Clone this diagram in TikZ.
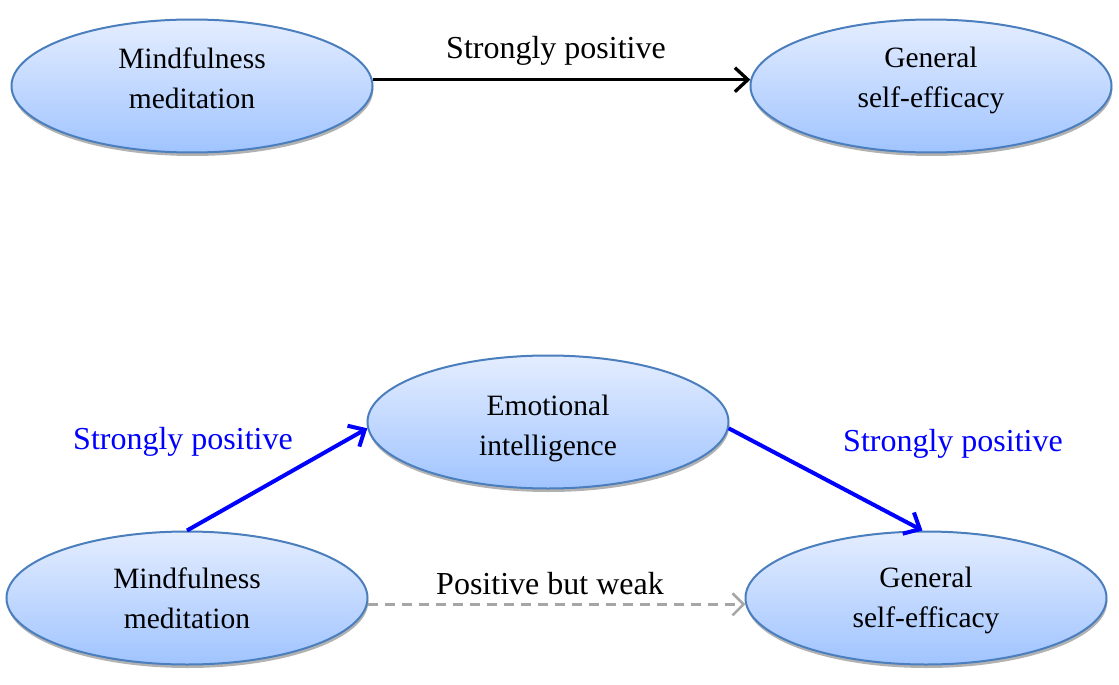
\documentclass[tikz,border=0pt]{standalone}
\usepackage{fontspec}
\setmainfont{Liberation Serif}
\usetikzlibrary{shapes.geometric,arrows.meta,shadows}
\definecolor{rim}{RGB}{74,126,188}
\definecolor{fillTop}{RGB}{228,237,255}
\definecolor{fillBot}{RGB}{160,196,255}
\definecolor{weakgray}{RGB}{166,166,166}
\tikzset{
  bubble/.style={ellipse, draw=rim, line width=2pt,
    top color=fillTop, bottom color=fillBot,
    minimum width=361pt, minimum height=133pt, inner sep=0pt,
    drop shadow={shadow xshift=0.8pt, shadow yshift=-3.5pt, fill=black!55, opacity=0.55}},
  caption/.style={align=center, font=\fontsize{29.5}{40}\selectfont, inner sep=0pt},
  edgelabel/.style={font=\fontsize{32}{38}\selectfont, inner sep=0pt},
  strong/.style={draw=black, line width=3.3pt, -{Straight Barb[length=13pt, width=24pt, line width=3.3pt]}},
  bluelink/.style={draw=blue, line width=4pt, -{Straight Barb[length=13pt, width=24pt, line width=4pt]}},
  weaklink/.style={draw=weakgray, line width=2.5pt, dash pattern=on 10pt off 7pt,
    -{Straight Barb[length=11pt, width=22pt, line width=2.5pt]}}
}
\begin{document}
\begin{tikzpicture}[x=1pt, y=-1pt]
  \useasboundingbox (0,0) rectangle (1119,685);

  % direct model
  \node[bubble] (mm1) at (192,86) {};
  \node[bubble] (gse1) at (931,86) {};
  \node[caption] (mm1t) at (192,78) {Mindfulness\\meditation};
  \node[caption] (gse1t) at (931,80) {General\\self-efficacy};
  \draw[strong] (mm1.2) -- (gse1.178);
  \node[edgelabel] (l1) at (556,51) {Strongly positive};

  % mediated model
  \node[bubble] (ei) at (548,422) {};
  \node[bubble] (mm2) at (187,598) {};
  \node[bubble] (gse2) at (926,598) {};
  \node[caption] (eit) at (548,428) {Emotional\\intelligence};
  \node[caption] (mm2t) at (187,598) {Mindfulness\\meditation};
  \node[caption] (gse2t) at (926,600) {General\\self-efficacy};

  \draw[bluelink] (mm2.north) -- (ei.182);
  \draw[bluelink] (ei.358) -- (gse2.93);
  \draw[weaklink] (mm2.358) -- (gse2.182);

  \node[edgelabel, text=blue] (l2) at (183,442) {Strongly positive};
  \node[edgelabel, text=blue] (l3) at (953,444) {Strongly positive};
  \node[edgelabel] (l4) at (550,584) {Positive but weak};
\end{tikzpicture}
\end{document}
